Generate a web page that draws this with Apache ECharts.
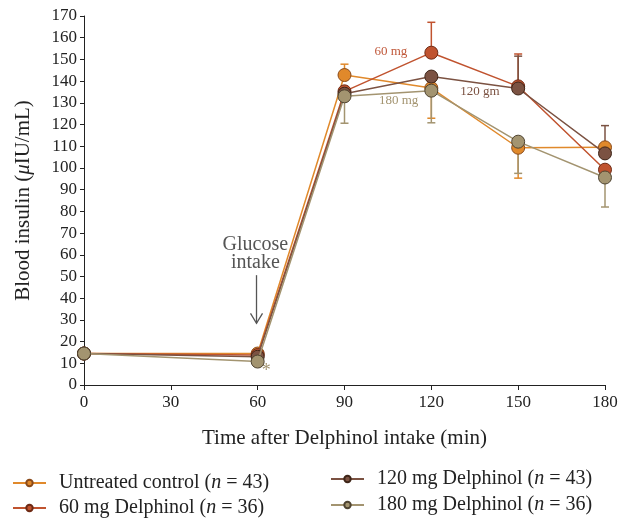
<!DOCTYPE html>
<html><head><meta charset="utf-8">
<script src="https://cdn.jsdelivr.net/npm/echarts@6/dist/echarts.min.js"></script>
<style>html,body{margin:0;padding:0;background:#fff}#c{width:633px;height:518px}</style>
</head><body><div id="c"></div>
<script>
const times = [0, 30, 60, 90, 120, 150, 180];
const xTicks = [0, 30, 60, 90, 120, 150, 180];
const seriesNames = ['Untreated control', '60 mg Delphinol', '120 mg Delphinol', '180 mg Delphinol'];
const seriesN = [43, 36, 43, 36];
const sampleTimes = [0, 60, 90, 120, 150, 180];
const untreated = [14.5, 14.5, 142.8, 136.8, 109.3, 109.5];
const mg60 = [14.5, 13.8, 135.3, 153.1, 137.6, 99.2];
const mg120 = [14.5, 13.0, 134.2, 142.1, 136.6, 106.7];
const mg180 = [14.5, 10.8, 133.0, 135.6, 112.1, 95.6];
// error bar ends: [time, value at point, bar end]
const errUntreated = [[90, 142.8, 147.8], [120, 136.8, 122.9], [150, 109.3, 95.3]];
const err60 = [[120, 153.1, 167.1], [150, 137.6, 152.5]];
const err120 = [[150, 136.6, 151.5], [180, 106.7, 119.5]];
const err180 = [[90, 133.0, 120.6], [120, 135.6, 120.8], [150, 112.1, 97.5], [180, 95.6, 82.0]];
const colors = ['#e0892b', '#c0532f', '#7b5242', '#a39470'];
const borders = ['#8a4a1a', '#6e2a14', '#3e2518', '#4e4330'];

const chart = echarts.init(document.getElementById('c'));
const serif = 'Liberation Serif';
const values = [untreated, mg60, mg120, mg180];
const errs = [errUntreated, err60, err120, err180];

const series = [];
values.forEach((v, i) => {
  series.push({
    type: 'custom', name: seriesNames[i] + '_err', silent: true, z: 1,
    data: errs[i],
    encode: {x: 0, y: [1, 2]},
    renderItem: function (params, api) {
      const p = api.coord([api.value(0), api.value(1)]);
      const e = api.coord([api.value(0), api.value(2)]);
      const c = colors[i];
      return {type: 'group', children: [
        {type: 'line', shape: {x1: p[0], y1: p[1], x2: e[0], y2: e[1]}, style: {stroke: c, lineWidth: 1.5}},
        {type: 'line', shape: {x1: e[0] - 4, y1: e[1], x2: e[0] + 4, y2: e[1]}, style: {stroke: c, lineWidth: 1.5}}
      ]};
    }
  });
});
values.forEach((v, i) => {
  series.push({
    type: 'line', name: seriesNames[i], z: 3 + i,
    data: sampleTimes.map((t, k) => [t, v[k]]),
    symbol: 'circle', symbolSize: 13,
    lineStyle: {color: colors[i], width: 1.5},
    itemStyle: {color: colors[i], borderColor: borders[i], borderWidth: 1},
    emphasis: {disabled: true}
  });
});

const legendText = {
  fontFamily: serif, fontSize: 20, color: '#222',
  rich: {
    s: {width: 8},
    t: {fontFamily: serif, fontSize: 20, color: '#222'},
    i: {fontFamily: serif, fontSize: 20, fontStyle: 'italic', color: '#222'}
  }
};
const fmt = name => {
  const i = seriesNames.indexOf(name);
  return '{s|}{t|' + name + ' (}{i|n}{t| = ' + seriesN[i] + ')}';
};
const legendPos = [[12, 473], [12, 498], [330, 469], [330, 495]];
const legends = seriesNames.map((n, i) => ({
  data: [n], left: legendPos[i][0], top: legendPos[i][1], padding: 0,
  itemWidth: 33, itemHeight: 8, textStyle: legendText, formatter: fmt, selectedMode: false
}));

chart.setOption({
  animation: false,
  color: colors,
  grid: {left: 84, right: 28, top: 16, bottom: 133},
  legend: legends,
  xAxis: {
    type: 'value', min: 0, max: 180, interval: 30,
    name: 'Time after Delphinol intake (min)', nameLocation: 'middle', nameGap: 43,
    nameTextStyle: {fontFamily: serif, fontSize: 21, color: '#222'},
    axisLine: {show: true, lineStyle: {color: '#222', width: 1}},
    axisTick: {show: true, length: 5, lineStyle: {color: '#222'}},
    axisLabel: {fontFamily: serif, fontSize: 17, color: '#222', margin: 9, formatter: v => xTicks.includes(v) ? String(v) : ''},
    splitLine: {show: false}
  },
  yAxis: {
    type: 'value', min: 0, max: 170, interval: 10,
    name: 'Blood insulin ({i|μ}IU/mL)', nameLocation: 'middle', nameGap: 50, nameRotate: 90,
    nameTextStyle: {fontFamily: serif, fontSize: 21, color: '#222',
      rich: {i: {fontFamily: serif, fontSize: 21, fontStyle: 'italic', color: '#222'}}},
    axisLine: {show: true, lineStyle: {color: '#222', width: 1}},
    axisTick: {show: true, length: 4, lineStyle: {color: '#222'}},
    axisLabel: {fontFamily: serif, fontSize: 17, color: '#222', margin: 7},
    splitLine: {show: false}
  },
  series: series
});

function px(x, y) { return chart.convertToPixel({gridIndex: 0}, [x, y]); }
const lab60 = px(106, 153.5), lab120 = px(136.8, 135), lab180 = px(108.7, 131);
const g1 = px(59.2, 64.6), g2 = px(59.2, 56.4), a1 = px(59.6, 50.6), a2 = px(59.6, 28.4), ast = px(63, 6.3);
chart.setOption({
  graphic: [
    {type: 'text', x: lab60[0], y: lab60[1], style: {text: '60 mg', fill: '#c0583a', font: '13px "Liberation Serif"', align: 'center', verticalAlign: 'middle'}},
    {type: 'text', x: lab120[0], y: lab120[1], style: {text: '120 gm', fill: '#7b5242', font: '13px "Liberation Serif"', align: 'center', verticalAlign: 'middle'}},
    {type: 'text', x: lab180[0], y: lab180[1], style: {text: '180 mg', fill: '#a39470', font: '13px "Liberation Serif"', align: 'center', verticalAlign: 'middle'}},
    {type: 'text', x: g1[0], y: g1[1], style: {text: 'Glucose', fill: '#555', font: '20px "Liberation Serif"', align: 'center', verticalAlign: 'middle'}},
    {type: 'text', x: g2[0], y: g2[1], style: {text: 'intake', fill: '#555', font: '20px "Liberation Serif"', align: 'center', verticalAlign: 'middle'}},
    {type: 'line', shape: {x1: a1[0], y1: a1[1], x2: a2[0], y2: a2[1]}, style: {stroke: '#555', lineWidth: 1.3}},
    {type: 'polyline', shape: {points: [[a2[0] - 6, a2[1] - 10], [a2[0], a2[1]], [a2[0] + 6, a2[1] - 10]]}, style: {stroke: '#555', lineWidth: 1.3, fill: null}},
    {type: 'text', x: ast[0], y: ast[1], style: {text: '*', fill: '#a39470', font: '18px "Liberation Serif"', align: 'center', verticalAlign: 'middle'}}
  ]
});
</script></body></html>
